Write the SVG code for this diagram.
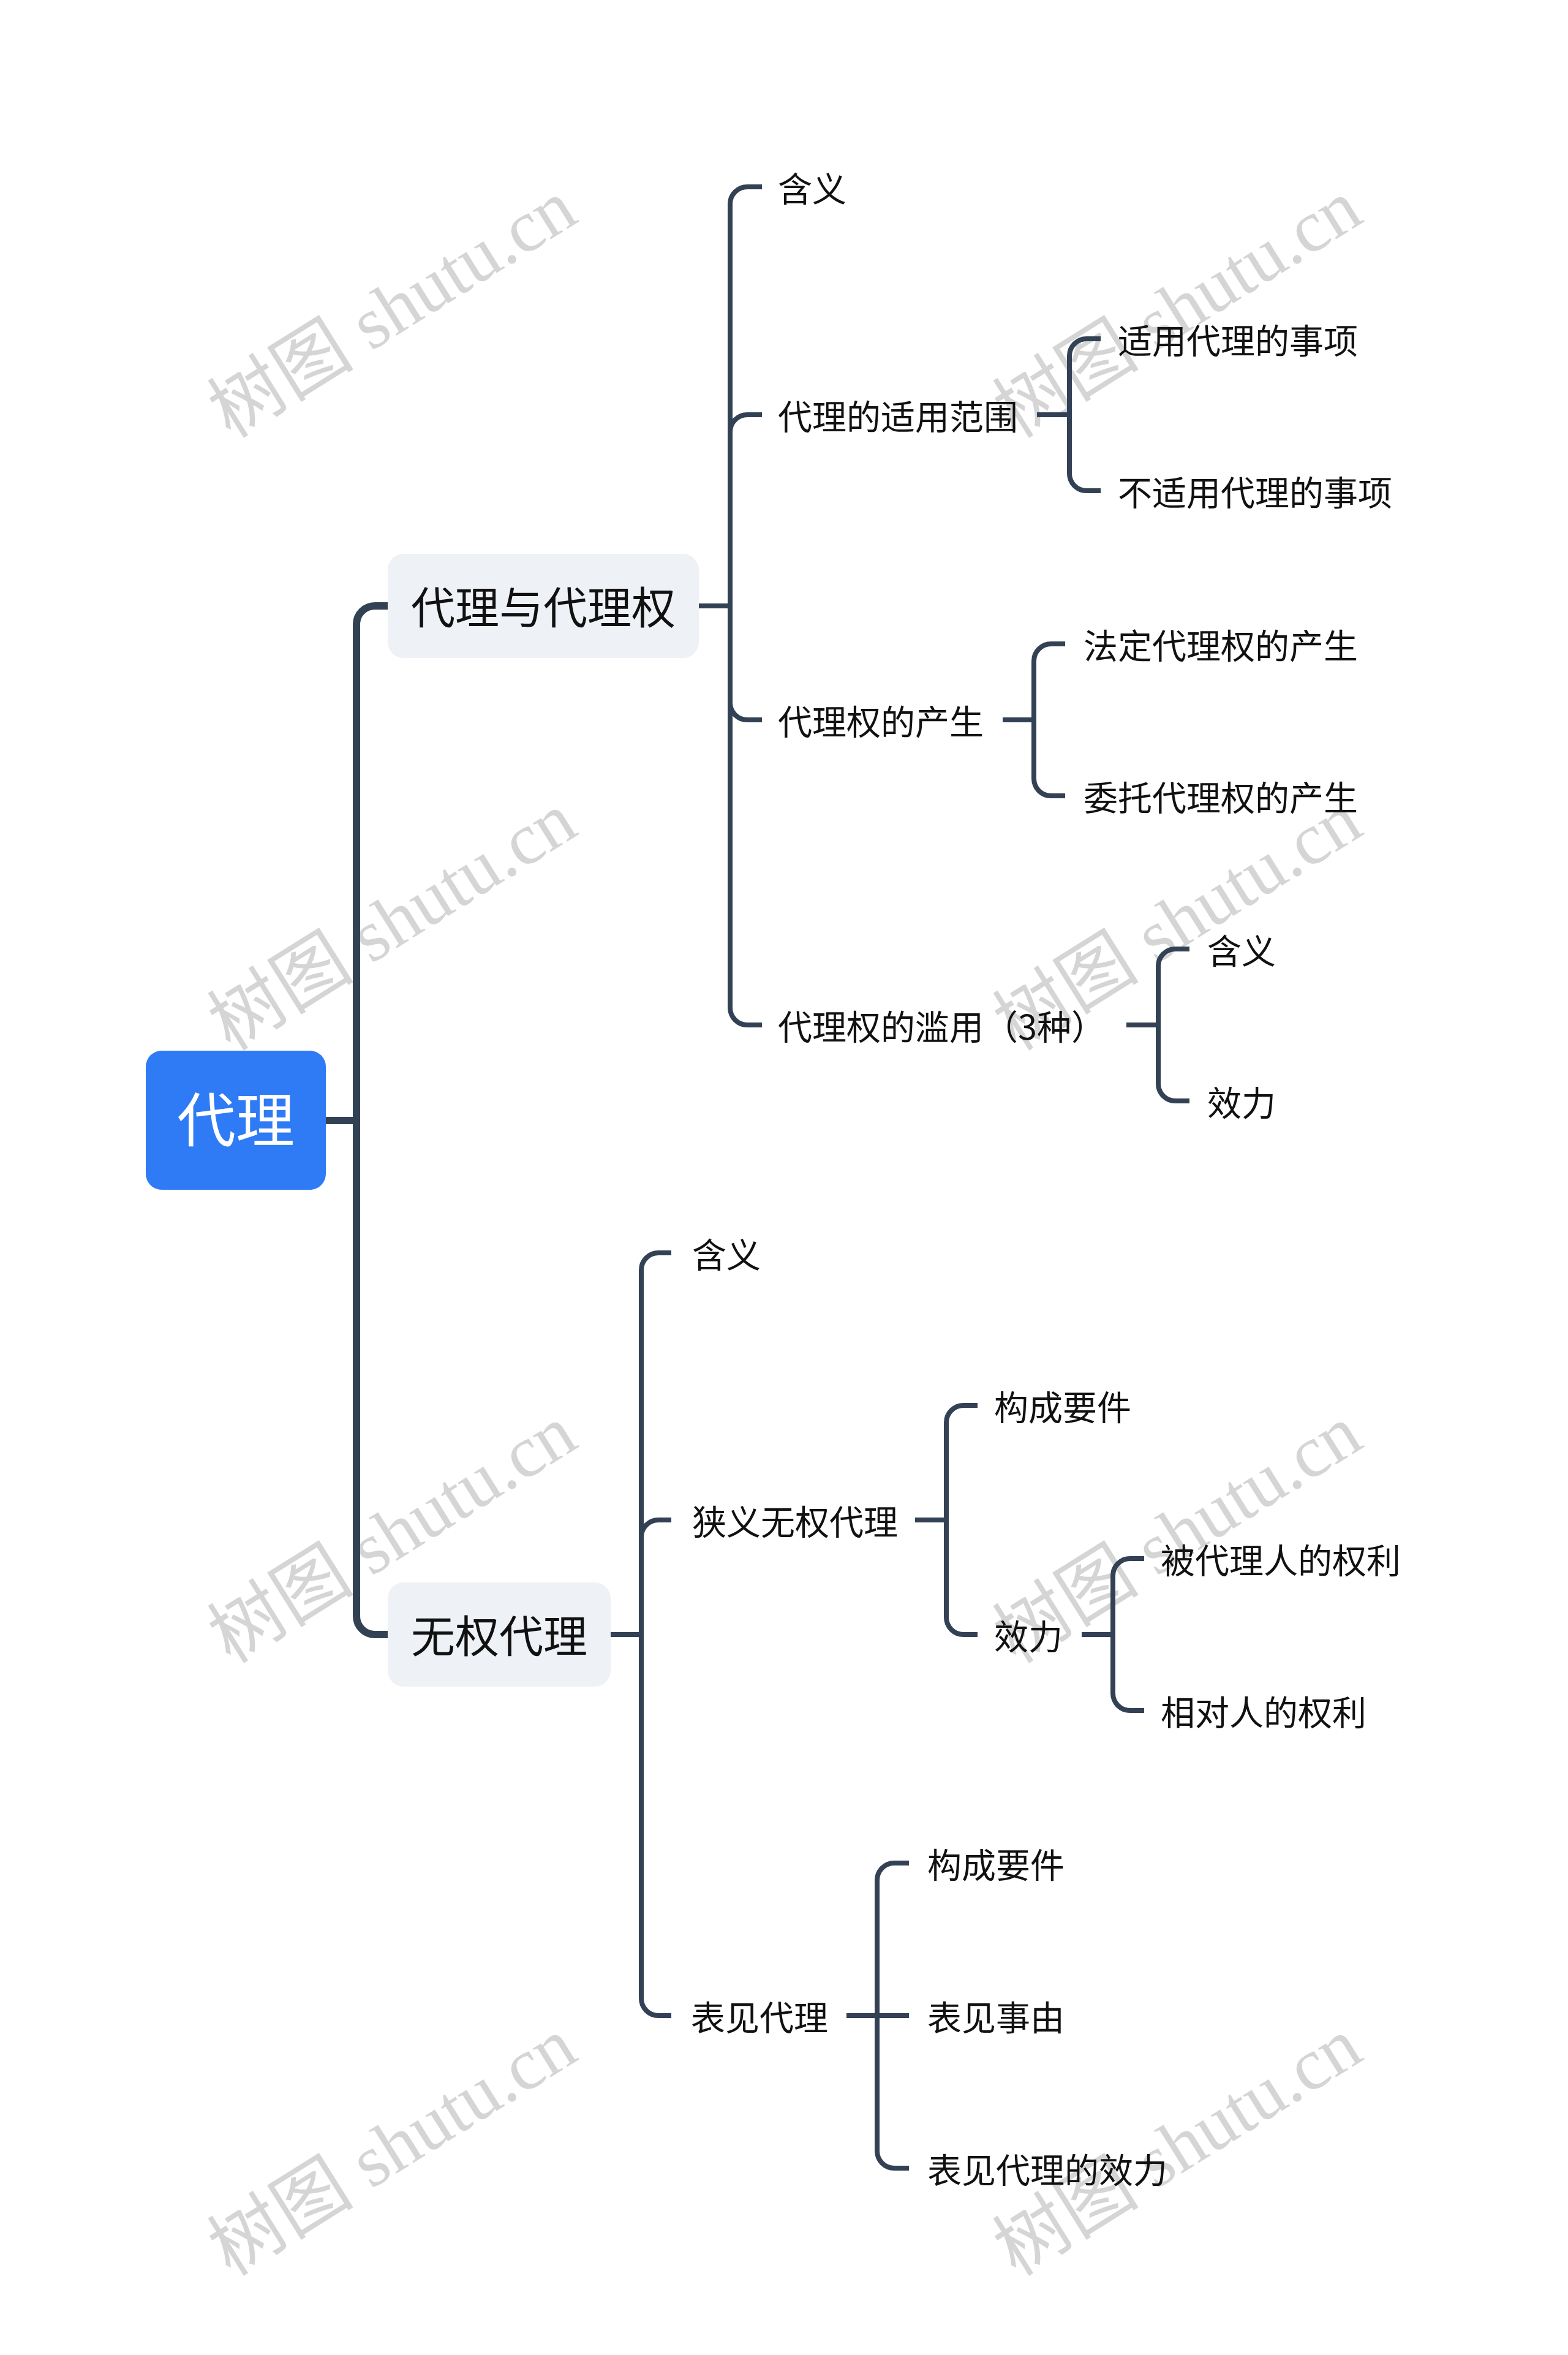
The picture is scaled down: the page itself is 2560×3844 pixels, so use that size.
<svg xmlns="http://www.w3.org/2000/svg" width="2560" height="3844" viewBox="0 0 2560 3844">
<style>
.wm{font-family:"Liberation Serif","Noto Sans CJK SC",serif;font-size:120px;fill:#D5D5D5;text-anchor:middle}
.c1{fill:none;stroke:#334155;stroke-width:12}
.c2{fill:none;stroke:#334155;stroke-width:8}
.t{font-family:"Noto Sans CJK SC","Noto Sans",sans-serif;font-size:56px;fill:#111}
.t1{font-family:"Noto Sans CJK SC","Noto Sans",sans-serif;font-size:72px;fill:#111;text-anchor:middle}
.t0{font-family:"Noto Sans CJK SC","Noto Sans",sans-serif;font-size:96px;fill:#fff;text-anchor:middle}
</style>
<rect width="2560" height="3844" fill="#fff"/>
<g id="watermarks">
<text class="wm" transform="translate(643,508) rotate(-32)" y="36">树图 shutu.cn</text>
<text class="wm" transform="translate(1925,508) rotate(-32)" y="36">树图 shutu.cn</text>
<text class="wm" transform="translate(643,1508) rotate(-32)" y="36">树图 shutu.cn</text>
<text class="wm" transform="translate(1925,1508) rotate(-32)" y="36">树图 shutu.cn</text>
<text class="wm" transform="translate(643,2508) rotate(-32)" y="36">树图 shutu.cn</text>
<text class="wm" transform="translate(1925,2508) rotate(-32)" y="36">树图 shutu.cn</text>
<text class="wm" transform="translate(643,3508) rotate(-32)" y="36">树图 shutu.cn</text>
<text class="wm" transform="translate(1925,3508) rotate(-32)" y="36">树图 shutu.cn</text>
</g>
<g id="connectors">
<path class="c1" d="M532,1829 H582"/>
<path class="c1" d="M582,1829 V1019 A30,30 0 0 1 612,989 H633"/>
<path class="c1" d="M582,1829 V2638 A30,30 0 0 0 612,2668 H633"/>
<path class="c2" d="M1141,989 H1192"/>
<path class="c2" d="M1192,989 V333 A28,28 0 0 1 1220,305 H1244"/>
<path class="c2" d="M1192,989 V705 A28,28 0 0 1 1220,677 H1244"/>
<path class="c2" d="M1192,989 V1147 A28,28 0 0 0 1220,1175 H1244"/>
<path class="c2" d="M1192,989 V1645 A28,28 0 0 0 1220,1673 H1244"/>
<path class="c2" d="M1693,677 H1746"/>
<path class="c2" d="M1746,677 V581 A28,28 0 0 1 1774,553 H1797"/>
<path class="c2" d="M1746,677 V773 A28,28 0 0 0 1774,801 H1797"/>
<path class="c2" d="M1637,1175 H1688"/>
<path class="c2" d="M1688,1175 V1079 A28,28 0 0 1 1716,1051 H1739"/>
<path class="c2" d="M1688,1175 V1271 A28,28 0 0 0 1716,1299 H1739"/>
<path class="c2" d="M1839,1673 H1891"/>
<path class="c2" d="M1891,1673 V1577 A28,28 0 0 1 1919,1549 H1942"/>
<path class="c2" d="M1891,1673 V1769 A28,28 0 0 0 1919,1797 H1942"/>
<path class="c2" d="M997,2668 H1047"/>
<path class="c2" d="M1047,2668 V2073 A28,28 0 0 1 1075,2045 H1096"/>
<path class="c2" d="M1047,2668 V2509 A28,28 0 0 1 1075,2481 H1096"/>
<path class="c2" d="M1047,2668 V3262 A28,28 0 0 0 1075,3290 H1096"/>
<path class="c2" d="M1494,2481 H1545"/>
<path class="c2" d="M1545,2481 V2322 A28,28 0 0 1 1573,2294 H1596"/>
<path class="c2" d="M1545,2481 V2640 A28,28 0 0 0 1573,2668 H1596"/>
<path class="c2" d="M1766,2668 H1817"/>
<path class="c2" d="M1817,2668 V2572 A28,28 0 0 1 1845,2544 H1868"/>
<path class="c2" d="M1817,2668 V2764 A28,28 0 0 0 1845,2792 H1868"/>
<path class="c2" d="M1382,3290 H1432"/>
<path class="c2" d="M1432,3290 V3069 A28,28 0 0 1 1460,3041 H1484"/>
<path class="c2" d="M1432,3290 H1484"/>
<path class="c2" d="M1432,3290 V3511 A28,28 0 0 0 1460,3539 H1484"/>
</g>
<g id="root"><rect x="238" y="1715" width="294" height="227" rx="26" fill="#2F7BF6"/><text class="t0" x="385" y="1863">代理</text></g>
<g id="n1"><rect x="633" y="904" width="508" height="170" rx="26" fill="#EEF1F5"/><text class="t1" x="887" y="1018">代理与代理权</text></g>
<g id="n2"><rect x="633" y="2583" width="364" height="170" rx="26" fill="#EEF1F5"/><text class="t1" x="815" y="2697">无权代理</text></g>
<g id="n1-1"><text class="t" x="1270" y="329">含义</text></g>
<g id="n1-2"><text class="t" x="1270" y="701">代理的适用范围</text></g>
<g id="n1-2-1"><text class="t" x="1825" y="577">适用代理的事项</text></g>
<g id="n1-2-2"><text class="t" x="1825" y="825">不适用代理的事项</text></g>
<g id="n1-3"><text class="t" x="1270" y="1199">代理权的产生</text></g>
<g id="n1-3-1"><text class="t" x="1769" y="1075">法定代理权的产生</text></g>
<g id="n1-3-2"><text class="t" x="1769" y="1323">委托代理权的产生</text></g>
<g id="n1-4"><text class="t" x="1270" y="1697">代理权的滥用（3种）</text></g>
<g id="n1-4-1"><text class="t" x="1971" y="1573">含义</text></g>
<g id="n1-4-2"><text class="t" x="1971" y="1821">效力</text></g>
<g id="n2-1"><text class="t" x="1130" y="2069">含义</text></g>
<g id="n2-2"><text class="t" x="1130" y="2505">狭义无权代理</text></g>
<g id="n2-2-1"><text class="t" x="1623" y="2318">构成要件</text></g>
<g id="n2-2-2"><text class="t" x="1623" y="2692">效力</text></g>
<g id="n2-2-2-1"><text class="t" x="1895" y="2568">被代理人的权利</text></g>
<g id="n2-2-2-2"><text class="t" x="1895" y="2816">相对人的权利</text></g>
<g id="n2-3"><text class="t" x="1128" y="3314">表见代理</text></g>
<g id="n2-3-1"><text class="t" x="1514" y="3065">构成要件</text></g>
<g id="n2-3-2"><text class="t" x="1514" y="3314">表见事由</text></g>
<g id="n2-3-3"><text class="t" x="1514" y="3563">表见代理的效力</text></g>
</svg>
